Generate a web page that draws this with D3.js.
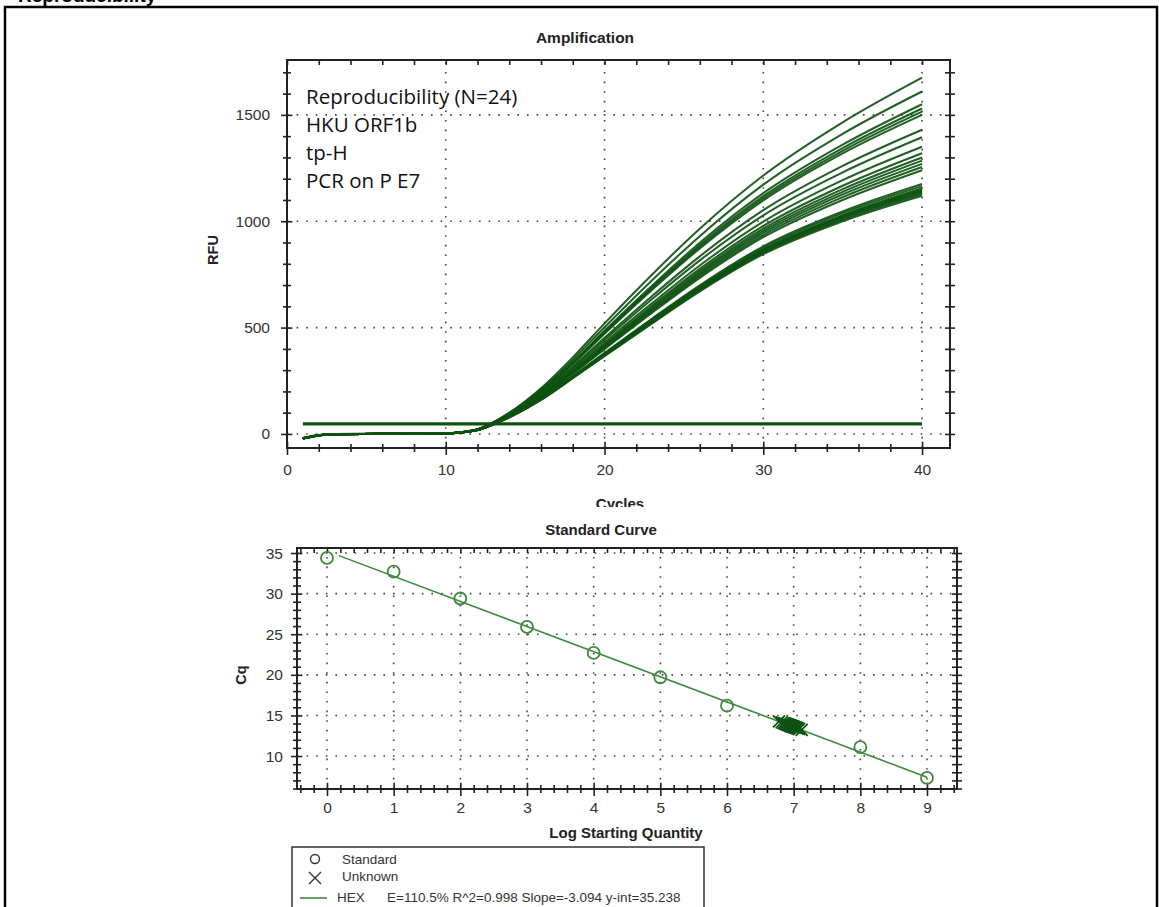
<!DOCTYPE html>
<html>
<head>
<meta charset="utf-8">
<script src="https://cdn.jsdelivr.net/npm/d3@7"></script>
<style>
  body { margin: 0; background: #fff; }
  svg { display: block; font-family: Arial, "Liberation Sans", sans-serif; }
  .tick text { fill: #333; }
</style>
</head>
<body>
<svg id="chart" width="1159" height="907"></svg>
<script>
// ---- Amplification data (RFU) ----
const cycles = [1, 2, 3, 10, 11, 12, 13, 14, 16, 18, 20, 23, 26, 30, 35, 40];
const rfu = [
  [-20, -6, -1, 3, 9, 22, 55, 100, 215, 360, 520, 750, 965, 1215, 1465, 1675],
  [-21, -6, -1, 3, 9, 22, 54, 97, 209, 349, 502, 723, 930, 1172, 1411, 1610],
  [-19, -5, -1, 3, 9, 21, 53, 95, 203, 338, 485, 698, 899, 1132, 1360, 1550],
  [-22, -6, -1, 2, 9, 21, 53, 94, 201, 334, 480, 690, 888, 1118, 1344, 1530],
  [-20, -6, 0, 3, 9, 21, 52, 94, 199, 332, 476, 684, 880, 1108, 1331, 1515],
  [-21, -7, -1, 2, 8, 21, 52, 93, 198, 329, 471, 678, 872, 1098, 1319, 1500],
  [-20, -6, -1, 2, 8, 20, 50, 90, 191, 317, 452, 649, 835, 1052, 1260, 1430],
  [-22, -6, -1, 2, 8, 20, 50, 89, 187, 311, 442, 634, 816, 1028, 1230, 1395],
  [-19, -5, 0, 2, 8, 20, 49, 87, 183, 303, 430, 615, 792, 998, 1193, 1350],
  [-21, -6, -1, 2, 8, 20, 49, 86, 180, 297, 421, 603, 776, 978, 1167, 1320],
  [-20, -6, -1, 2, 8, 19, 48, 85, 178, 294, 416, 595, 766, 965, 1151, 1300],
  [-22, -7, -1, 2, 8, 19, 48, 85, 176, 291, 412, 588, 758, 955, 1138, 1285],
  [-20, -6, -1, 2, 8, 19, 48, 84, 175, 288, 408, 582, 750, 945, 1126, 1270],
  [-21, -6, 0, 2, 8, 19, 47, 83, 173, 286, 403, 576, 742, 935, 1113, 1255],
  [-20, -6, -1, 2, 8, 19, 47, 83, 172, 283, 399, 570, 734, 925, 1100, 1240],
  [-23, -7, -1, 2, 8, 18, 46, 80, 165, 272, 381, 543, 699, 882, 1046, 1175],
  [-21, -6, -1, 2, 8, 18, 46, 80, 164, 270, 378, 539, 694, 875, 1038, 1165],
  [-22, -7, -1, 2, 8, 18, 46, 79, 163, 268, 376, 534, 689, 868, 1029, 1155],
  [-20, -6, -1, 2, 8, 18, 45, 79, 163, 267, 374, 532, 686, 865, 1025, 1150],
  [-21, -6, -1, 2, 8, 18, 45, 79, 162, 266, 373, 530, 683, 862, 1021, 1145],
  [-22, -7, -1, 2, 8, 18, 45, 79, 162, 266, 372, 528, 681, 858, 1017, 1140],
  [-20, -6, -1, 2, 8, 18, 45, 79, 161, 265, 370, 526, 678, 855, 1013, 1135],
  [-21, -6, -1, 2, 8, 18, 45, 78, 161, 263, 368, 523, 674, 850, 1007, 1128],
  [-22, -7, -1, 2, 8, 18, 45, 78, 160, 262, 366, 520, 670, 845, 1000, 1120]
];
const thresholdRFU = 47;
const thresholdCycles = [1, 40];
const ampXTicks = [0, 10, 20, 30, 40];
const ampYTicks = [0, 500, 1000, 1500];
const noteLines = ["Reproducibility (N=24)", "HKU ORF1b", "tp-H", "PCR on P E7"];

// ---- Standard curve data ----
const stdLog = [0, 1, 2, 3, 4, 5, 6, 8, 9];
const stdCq = [34.4, 32.7, 29.4, 25.9, 22.7, 19.7, 16.2, 11.1, 7.3];
const unkLog = [6.78, 6.82, 6.85, 6.87, 6.88, 6.90, 6.91, 6.92, 6.93, 6.94, 6.95, 6.95,
                6.96, 6.97, 6.98, 6.99, 7.00, 7.01, 7.02, 7.03, 7.05, 7.06, 7.08, 7.12];
const unkCq = [14.28, 14.15, 14.05, 13.99, 13.95, 13.90, 13.86, 13.83, 13.80, 13.77, 13.74, 13.73,
               13.70, 13.67, 13.64, 13.61, 13.58, 13.55, 13.52, 13.49, 13.43, 13.40, 13.33, 13.22];
const fitSlope = -3.094;
const fitIntercept = 35.238;
const fitLogRange = [0.18, 9];
const stdXTicks = [0, 1, 2, 3, 4, 5, 6, 7, 8, 9];
const stdYTicks = [10, 15, 20, 25, 30, 35];
const legendLabels = ["Standard", "Unknown", "HEX"];
const legendFit = "E=110.5% R^2=0.998 Slope=-3.094 y-int=35.238";

const svg = d3.select("#chart");
const green = "#0e5212";
const lightGreen = "#3d8a3d";
const tickFont = 15.5;

// outer frame and cut heading
svg.append("path")
  .attr("d", "M5,910 V7 H1157 V910")
  .attr("fill", "none").attr("stroke", "#000").attr("stroke-width", 2.5);
svg.append("text")
  .attr("x", 18).attr("y", 2)
  .attr("font-size", 19).attr("font-weight", "bold")
  .text("Reproducibility");

// helper: ticks crossing a spine
function crossTicks(g, len) {
  g.select(".domain").remove();
  g.selectAll(".tick line").each(function() {
    const l = d3.select(this);
    if (l.attr("y2") !== null && +l.attr("y2") !== 0) l.attr("y1", -(+l.attr("y2")) * len);
    if (l.attr("x2") !== null && +l.attr("x2") !== 0) l.attr("x1", -(+l.attr("x2")) * len);
  });
  g.selectAll(".tick line").attr("stroke", "#222").attr("stroke-width", 1.6);
}

function drawFrame(box, x, y, xMajor, xMinor, yMajor, yMinor, padX, padY) {
  const { left, right, top, bottom } = box;
  // dotted grid
  const grid = svg.append("g").attr("stroke", "#444").attr("stroke-width", 1.6)
    .attr("stroke-dasharray", "1.6,8");
  grid.selectAll(".gx").data(xMajor).join("line")
    .attr("x1", d => x(d)).attr("x2", d => x(d))
    .attr("y1", bottom).attr("y2", top);
  grid.selectAll(".gy").data(yMajor).join("line")
    .attr("x1", left).attr("x2", right)
    .attr("y1", d => y(d)).attr("y2", d => y(d));

  // spines
  svg.append("rect")
    .attr("x", left).attr("y", top)
    .attr("width", right - left).attr("height", bottom - top)
    .attr("fill", "none").attr("stroke", "#222").attr("stroke-width", 2);

  // bottom axis
  const bMinor = svg.append("g").attr("transform", `translate(0,${bottom})`)
    .call(d3.axisBottom(x).tickValues(xMinor).tickSize(4).tickFormat(""));
  crossTicks(bMinor, 1);
  const bMajor = svg.append("g").attr("transform", `translate(0,${bottom})`)
    .call(d3.axisBottom(x).tickValues(xMajor).tickSize(7).tickPadding(padX).tickFormat(d3.format("d")));
  crossTicks(bMajor, 0.9);
  bMajor.selectAll("text").attr("font-size", tickFont);

  // left axis
  const lMinor = svg.append("g").attr("transform", `translate(${left},0)`)
    .call(d3.axisLeft(y).tickValues(yMinor).tickSize(4).tickFormat(""));
  crossTicks(lMinor, 1);
  const lMajor = svg.append("g").attr("transform", `translate(${left},0)`)
    .call(d3.axisLeft(y).tickValues(yMajor).tickSize(6).tickPadding(padY).tickFormat(d3.format("d")));
  crossTicks(lMajor, 0.9);
  lMajor.selectAll("text").attr("font-size", tickFont);

  // top and right spine ticks
  const tTicks = svg.append("g").attr("transform", `translate(0,${top})`)
    .call(d3.axisBottom(x).tickValues(xMinor.concat(xMajor)).tickSize(5).tickFormat(""));
  tTicks.select(".domain").remove();
  tTicks.selectAll("line").attr("stroke", "#222").attr("stroke-width", 1.6);
  const rTicks = svg.append("g").attr("transform", `translate(${right},0)`)
    .call(d3.axisRight(y).tickValues(yMinor.concat(yMajor)).tickSize(5).tickFormat(""));
  crossTicks(rTicks, 1);
}

// ================= Amplification =================
const amp = { left: 287, right: 950, top: 60, bottom: 448 };
const ax = d3.scaleLinear().domain([0, 41.76]).range([amp.left, amp.right]);
const ay = d3.scaleLinear().domain([-66, 1758]).range([amp.bottom, amp.top]);

drawFrame(amp, ax, ay, ampXTicks, d3.range(2, 42, 2).filter(v => v % 10),
  ampYTicks, d3.range(-100, 1800, 100).filter(v => v % 500 && v > -66 && v < 1758), 9, 11);

svg.append("text")
  .attr("x", 585).attr("y", 43).attr("text-anchor", "middle")
  .attr("font-size", 15.5).attr("font-weight", "bold").attr("fill", "#222")
  .text("Amplification");
svg.append("text")
  .attr("transform", `translate(218,250) rotate(-90)`)
  .attr("text-anchor", "middle").attr("font-size", 14.5).attr("font-weight", "bold").attr("fill", "#222")
  .text("RFU");

svg.append("clipPath").attr("id", "cyc-clip")
  .append("rect").attr("x", 0).attr("y", 0).attr("width", 1159).attr("height", 507);
svg.append("text")
  .attr("clip-path", "url(#cyc-clip)")
  .attr("x", 620).attr("y", 509).attr("text-anchor", "middle")
  .attr("font-size", 15).attr("font-weight", "bold").attr("fill", "#222")
  .text("Cycles");

const line = d3.line()
  .x((d, i) => ax(cycles[i]))
  .y(d => ay(d))
  .curve(d3.curveMonotoneX);

svg.append("g").selectAll("path").data(rfu).join("path")
  .attr("d", line)
  .attr("fill", "none").attr("stroke", green).attr("stroke-width", 2)
  .attr("stroke-opacity", 0.92);

svg.append("line")
  .attr("x1", ax(thresholdCycles[0])).attr("x2", ax(thresholdCycles[1]))
  .attr("y1", ay(thresholdRFU)).attr("y2", ay(thresholdRFU))
  .attr("stroke", green).attr("stroke-width", 3.2);

svg.append("g").selectAll("text").data(noteLines).join("text")
  .attr("x", 306).attr("y", (d, i) => 104 + i * 28)
  .attr("font-family", "'Open Sans', sans-serif").attr("font-size", 20.5).attr("fill", "#111")
  .text(d => d);

// ================= Standard curve =================
const std = { left: 297, right: 957, top: 548, bottom: 789 };
const sx = d3.scaleLinear().domain([-0.45, 9.45]).range([std.left, std.right]);
const sy = d3.scaleLinear().domain([5.94, 35.62]).range([std.bottom, std.top]);

drawFrame(std, sx, sy, stdXTicks,
  d3.range(-0.4, 9.45, 0.2).map(v => +v.toFixed(1)).filter(v => Math.abs(v - Math.round(v)) > 0.01),
  stdYTicks, d3.range(6, 36, 1).filter(v => v % 5), 6, 8);

svg.append("text")
  .attr("x", 601).attr("y", 535).attr("text-anchor", "middle")
  .attr("font-size", 15).attr("font-weight", "bold").attr("fill", "#222")
  .text("Standard Curve");
svg.append("text")
  .attr("transform", `translate(246,675) rotate(-90)`)
  .attr("text-anchor", "middle").attr("font-size", 14.5).attr("font-weight", "bold").attr("fill", "#222")
  .text("Cq");
svg.append("text")
  .attr("x", 626).attr("y", 838).attr("text-anchor", "middle")
  .attr("font-size", 15).attr("font-weight", "bold").attr("fill", "#222")
  .text("Log Starting Quantity");

svg.append("line")
  .attr("x1", sx(fitLogRange[0])).attr("y1", sy(fitIntercept + fitSlope * fitLogRange[0]))
  .attr("x2", sx(fitLogRange[1])).attr("y2", sy(fitIntercept + fitSlope * fitLogRange[1]))
  .attr("stroke", lightGreen).attr("stroke-width", 1.6);

svg.append("g").selectAll("circle").data(stdLog).join("circle")
  .attr("cx", d => sx(d)).attr("cy", (d, i) => sy(stdCq[i]))
  .attr("r", 6).attr("fill", "none").attr("stroke", lightGreen).attr("stroke-width", 1.8);

const xMark = (cx, cy, s) => `M${cx - s},${cy - s}L${cx + s},${cy + s}M${cx - s},${cy + s}L${cx + s},${cy - s}`;
svg.append("g").selectAll("path").data(unkLog).join("path")
  .attr("d", (d, i) => xMark(sx(d), sy(unkCq[i]), 6))
  .attr("stroke", green).attr("stroke-width", 1.8).attr("fill", "none");

// legend
const lg = svg.append("g");
lg.append("rect").attr("x", 292).attr("y", 847).attr("width", 412).attr("height", 80)
  .attr("fill", "#fff").attr("stroke", "#333").attr("stroke-width", 1.5);
lg.append("circle").attr("cx", 315).attr("cy", 859).attr("r", 4.5)
  .attr("fill", "none").attr("stroke", "#333").attr("stroke-width", 1.4);
lg.append("path").attr("d", xMark(315, 878, 6)).attr("stroke", "#333").attr("stroke-width", 1.4);
lg.append("line").attr("x1", 300).attr("x2", 327).attr("y1", 898).attr("y2", 898)
  .attr("stroke", lightGreen).attr("stroke-width", 1.6);
lg.selectAll(".lbl").data(legendLabels).join("text")
  .attr("x", (d, i) => i < 2 ? 342 : 337)
  .attr("y", (d, i) => [864, 881, 902][i])
  .attr("font-size", 13.5).attr("fill", "#333")
  .text(d => d);
lg.append("text").attr("x", 387).attr("y", 902)
  .attr("font-size", 13.5).attr("fill", "#333").text(legendFit);
</script>
</body>
</html>
